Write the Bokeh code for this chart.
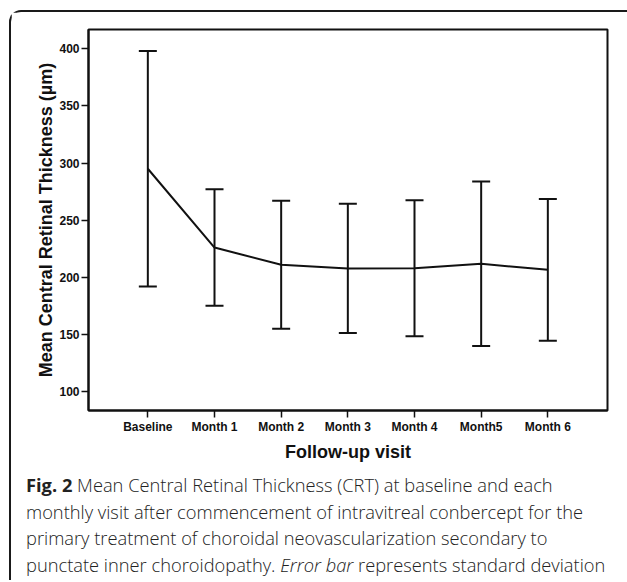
from bokeh.plotting import figure
from bokeh.models import ColumnDataSource, Whisker, TeeHead, FixedTicker, Range1d, Div
from bokeh.layouts import column
from bokeh.embed import file_html
from bokeh.resources import INLINE

# ---- data ----
visits = ["Baseline", "Month 1", "Month 2", "Month 3", "Month 4", "Month5", "Month 6"]
mean_crt = [295.0, 226.0, 211.0, 207.8, 208.0, 211.8, 206.5]
sd_crt = [103.0, 51.0, 56.0, 56.5, 59.5, 72.0, 62.0]
y_ticks = [100, 150, 200, 250, 300, 350, 400]

x_axis_title = "Follow-up visit"
y_axis_title = "Mean Central Retinal Thickness (\u00b5m)"

caption_html = (
    "<span style='font-weight:700'>Fig. 2</span> Mean Central Retinal Thickness (CRT) at baseline and each<br>"
    "monthly visit after commencement of intravitreal conbercept for the<br>"
    "primary treatment of choroidal neovascularization secondary to<br>"
    "punctate inner choroidopathy. <i>Error bar</i> represents standard deviation"
)

x_pos = list(range(len(visits)))
upper = [m + s for m, s in zip(mean_crt, sd_crt)]
lower = [m - s for m, s in zip(mean_crt, sd_crt)]
src = ColumnDataSource(dict(x=x_pos, mean=mean_crt, upper=upper, lower=lower))

FONT = "Liberation Sans"
INK = "#111111"

p = figure(
    width=616, height=460,
    output_backend="svg", toolbar_location=None,
    x_range=Range1d(-0.89, 6.895), y_range=Range1d(83.4, 416.9),
    min_border_left=77, min_border_right=20, min_border_top=17, min_border_bottom=62,
    background_fill_color="white", border_fill_color="white",
)
p.grid.visible = False
p.outline_line_color = INK
p.outline_line_width = 2

p.line("x", "mean", source=src, line_color=INK, line_width=2)
whisk = Whisker(
    base="x", upper="upper", lower="lower", source=src,
    line_color=INK, line_width=2,
    upper_head=TeeHead(size=18, line_color=INK, line_width=2),
    lower_head=TeeHead(size=18, line_color=INK, line_width=2),
)
p.add_layout(whisk)

for ax in (p.xaxis[0], p.yaxis[0]):
    ax.axis_line_color = INK
    ax.axis_line_width = 2
    ax.major_tick_line_color = INK
    ax.major_tick_line_width = 1.5
    ax.major_tick_out = 7
    ax.major_tick_in = 0
    ax.minor_tick_line_color = None
    ax.major_label_text_font = FONT
    ax.major_label_text_font_style = "bold"
    ax.major_label_text_font_size = "12px"
    ax.major_label_text_color = INK
    ax.major_label_standoff = 2
    ax.axis_label_text_font = FONT
    ax.axis_label_text_font_style = "bold"
    ax.axis_label_text_font_size = "18px"
    ax.axis_label_text_color = INK

p.xaxis[0].ticker = FixedTicker(ticks=x_pos)
p.xaxis[0].major_label_overrides = {i: v for i, v in enumerate(visits)}
p.xaxis[0].axis_label = x_axis_title
p.xaxis[0].axis_label_standoff = 5

p.yaxis[0].ticker = FixedTicker(ticks=y_ticks)
p.yaxis[0].axis_label = y_axis_title
p.yaxis[0].axis_label_standoff = 0

cap = Div(
    text=caption_html, width=600, height=108, margin=(0, 0, 0, 15),
    styles={"font-family": "'Open Sans'", "font-size": "18.3px", "font-weight": "300",
            "line-height": "26.7px", "color": "#222222",
            "white-space": "nowrap", "overflow": "visible"},
)

layout = column(
    p, cap, spacing=0, margin=(10, 0, 0, 9),
    styles={"border-top": "2px solid #1a1a1a", "border-left": "2px solid #1a1a1a",
            "border-top-left-radius": "12px"},
)

open("out.html", "w").write(file_html(layout, INLINE))
